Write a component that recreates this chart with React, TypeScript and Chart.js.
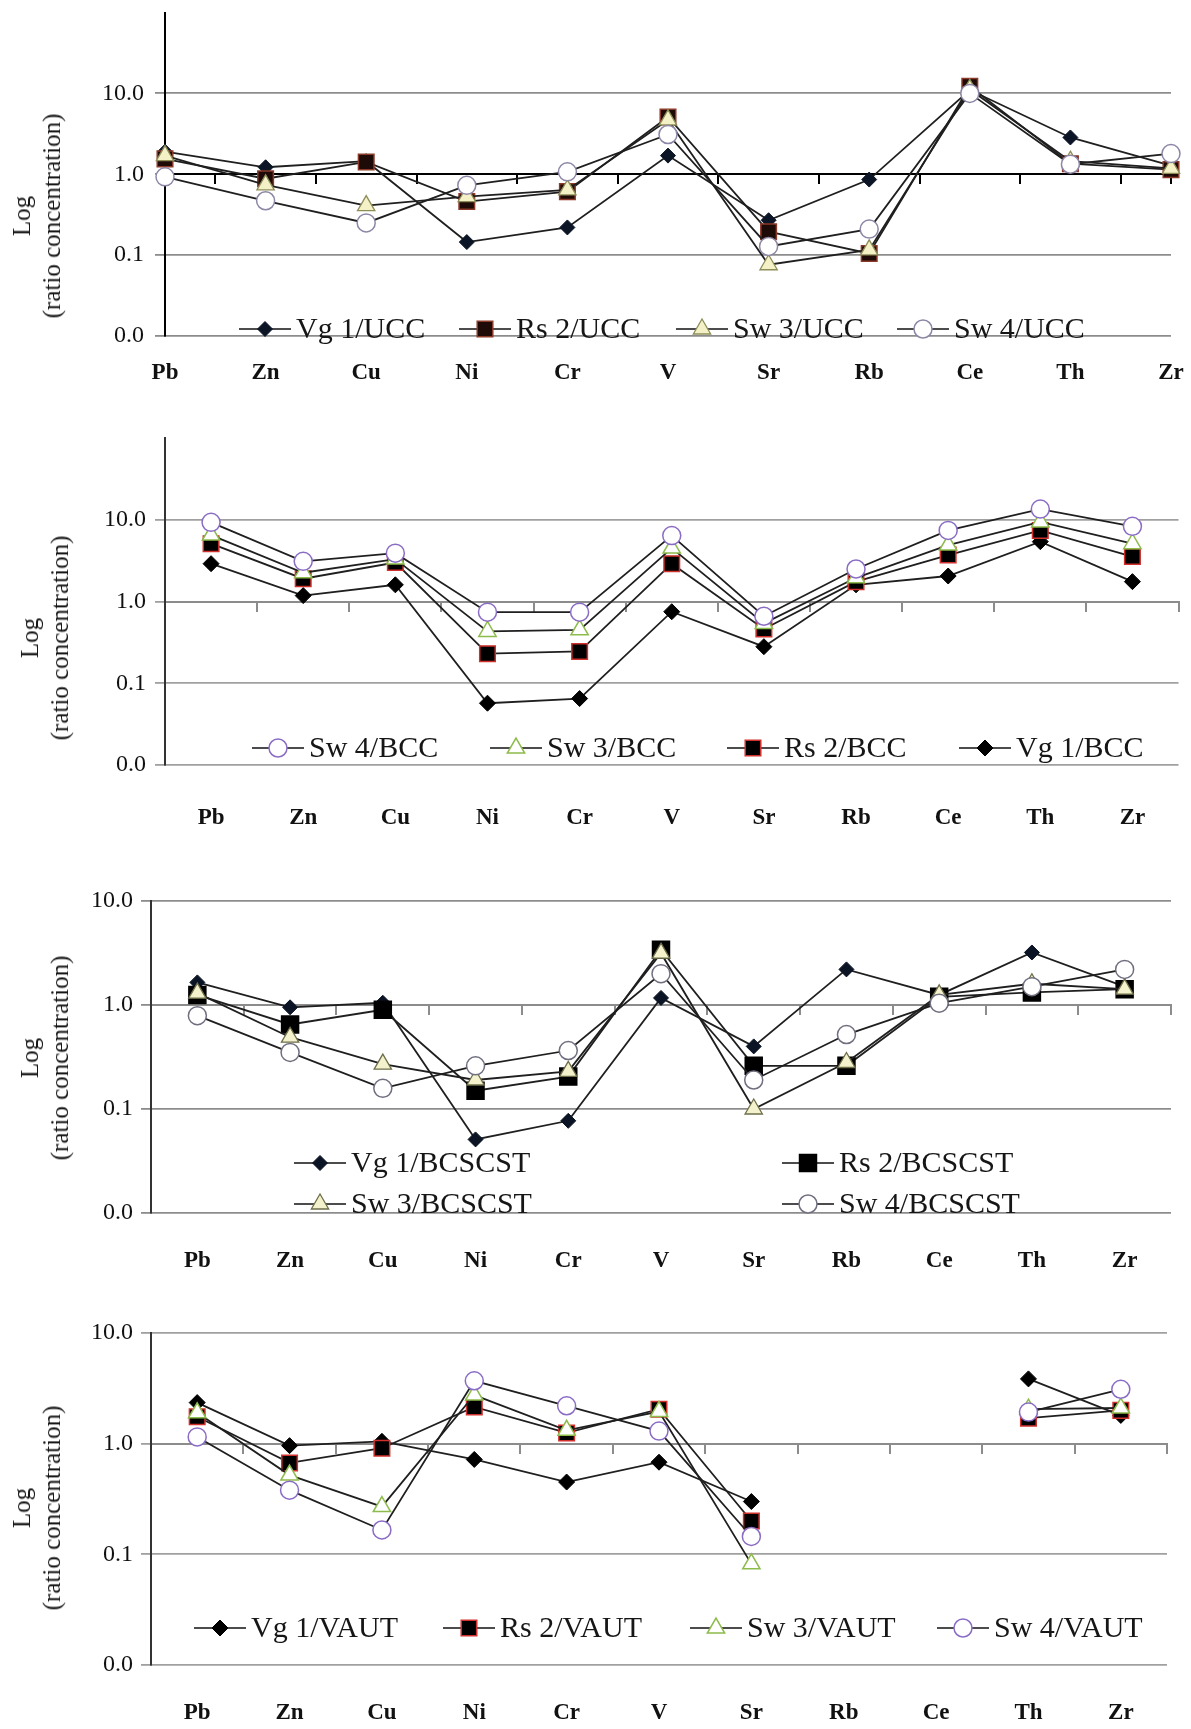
import React, { useEffect, useRef } from 'react';
import { Chart, registerables } from 'chart.js';

Chart.register(...registerables);

const SERIF = '"Liberation Serif", "Times New Roman", serif';

// ---- Data ----
const elements = ['Pb', 'Zn', 'Cu', 'Ni', 'Cr', 'V', 'Sr', 'Rb', 'Ce', 'Th', 'Zr'];
const yTickValues = [0.01, 0.1, 1, 10];

// Panel 1: normalised to UCC
const vg1Ucc = [1.9, 1.22, 1.45, 0.145, 0.22, 1.7, 0.27, 0.86, 11.0, 2.85, 1.28];
const rs2Ucc = [1.55, 0.88, 1.42, 0.46, 0.61, 5.1, 0.195, 0.105, 12.2, 1.35, 1.14];
const sw3Ucc = [1.7, 0.74, 0.41, 0.53, 0.64, 4.7, 0.076, 0.116, 11.2, 1.45, 1.18];
const sw4Ucc = [0.93, 0.47, 0.25, 0.73, 1.07, 3.1, 0.128, 0.21, 10.0, 1.33, 1.8];

// Panel 2: normalised to BCC
const vg1Bcc = [2.9, 1.18, 1.6, 0.057, 0.065, 0.75, 0.28, 1.6, 2.05, 5.4, 1.75];
const rs2Bcc = [5.1, 1.9, 3.0, 0.23, 0.245, 2.9, 0.46, 1.75, 3.7, 7.4, 3.55];
const sw3Bcc = [6.5, 2.25, 3.3, 0.43, 0.45, 4.5, 0.54, 1.95, 4.9, 9.4, 5.1];
const sw4Bcc = [9.3, 3.1, 3.9, 0.74, 0.74, 6.4, 0.66, 2.5, 7.4, 13.5, 8.3];

// Panel 3: normalised to BCSCST
const vg1Bcs = [1.65, 0.95, 1.05, 0.051, 0.077, 1.17, 0.4, 2.2, 1.25, 3.2, 1.5];
const rs2Bcs = [1.25, 0.65, 0.9, 0.15, 0.205, 3.4, 0.26, 0.26, 1.2, 1.32, 1.42];
const sw3Bcs = [1.3, 0.49, 0.27, 0.19, 0.23, 3.15, 0.1, 0.28, 1.25, 1.6, 1.42];
const sw4Bcs = [0.79, 0.35, 0.158, 0.26, 0.365, 2.0, 0.19, 0.52, 1.04, 1.5, 2.2];

// Panel 4: normalised to VAUT
const vg1Vaut = [2.35, 0.96, 1.05, 0.72, 0.45, 0.68, 0.3, null, null, 3.85, 1.8];
const rs2Vaut = [1.75, 0.67, 0.91, 2.15, 1.25, 2.05, 0.2, null, null, 1.7, 2.0];
const sw3Vaut = [1.9, 0.52, 0.27, 2.75, 1.32, 1.95, 0.082, null, null, 2.05, 2.1];
const sw4Vaut = [1.15, 0.38, 0.166, 3.7, 2.2, 1.3, 0.145, null, null, 1.93, 3.1];

// ---- Styles ----
type MarkerStyle = { pointStyle: string; radius: number; fill: string; stroke: string; bw: number };

const stylesA: MarkerStyle[] = [
  { pointStyle: 'rectRot', radius: 7.5, fill: '#0b1526', stroke: '#0b1526', bw: 1 },
  { pointStyle: 'rect', radius: 11, fill: '#1e0a06', stroke: '#8b3a2a', bw: 1.5 },
  { pointStyle: 'triangle', radius: 10, fill: '#f4f1c6', stroke: '#8d8d5a', bw: 1.3 },
  { pointStyle: 'circle', radius: 9, fill: '#ffffff', stroke: '#8e86a6', bw: 1.5 },
];
const stylesB: MarkerStyle[] = [
  { pointStyle: 'rectRot', radius: 8, fill: '#000000', stroke: '#000000', bw: 1 },
  { pointStyle: 'rect', radius: 11, fill: '#000000', stroke: '#d0312d', bw: 1.5 },
  { pointStyle: 'triangle', radius: 10, fill: '#ffffff', stroke: '#8dbb4c', bw: 1.5 },
  { pointStyle: 'circle', radius: 9, fill: '#ffffff', stroke: '#8a6cc4', bw: 1.5 },
];
const stylesC: MarkerStyle[] = [
  { pointStyle: 'rectRot', radius: 7.5, fill: '#0a1424', stroke: '#0a1424', bw: 1 },
  { pointStyle: 'rect', radius: 12, fill: '#000000', stroke: '#000000', bw: 1.5 },
  { pointStyle: 'triangle', radius: 10, fill: '#f3f2cc', stroke: '#6e6e4a', bw: 1.3 },
  { pointStyle: 'circle', radius: 9, fill: '#ffffff', stroke: '#6f6f80', bw: 1.5 },
];

function drawMarker(ctx: CanvasRenderingContext2D, s: MarkerStyle, x: number, y: number) {
  const r = s.radius;
  ctx.save();
  ctx.beginPath();
  if (s.pointStyle === 'rectRot') {
    ctx.moveTo(x - r, y);
    ctx.lineTo(x, y - r);
    ctx.lineTo(x + r, y);
    ctx.lineTo(x, y + r);
    ctx.closePath();
  } else if (s.pointStyle === 'rect') {
    const h = r * Math.SQRT1_2;
    ctx.rect(x - h, y - h, 2 * h, 2 * h);
  } else if (s.pointStyle === 'triangle') {
    const w = r * Math.sin(Math.PI / 3);
    ctx.moveTo(x, y - r);
    ctx.lineTo(x + w, y + r / 2);
    ctx.lineTo(x - w, y + r / 2);
    ctx.closePath();
  } else {
    ctx.arc(x, y, r, 0, Math.PI * 2);
  }
  ctx.fillStyle = s.fill;
  ctx.fill();
  ctx.lineWidth = s.bw;
  ctx.strokeStyle = s.stroke;
  ctx.stroke();
  ctx.restore();
}

const legendPlugin = {
  id: 'panelLegend',
  afterDraw(chart: any, _args: any, opts: any) {
    const ctx: CanvasRenderingContext2D = chart.ctx;
    (opts.items || []).forEach((it: any) => {
      const ds = chart.data.datasets[it.ds];
      ctx.save();
      ctx.strokeStyle = '#111';
      ctx.lineWidth = 1.6;
      ctx.beginPath();
      ctx.moveTo(it.x - opts.half, it.y);
      ctx.lineTo(it.x + opts.half, it.y);
      ctx.stroke();
      drawMarker(ctx, ds._marker, it.x, it.y);
      ctx.fillStyle = '#161616';
      ctx.font = `30px ${SERIF}`;
      ctx.textBaseline = 'middle';
      ctx.textAlign = 'left';
      ctx.fillText(ds.label, it.x + opts.gap, it.y + 1);
      ctx.restore();
    });
  },
};

type PanelCfg = {
  top: number;
  height: number;
  areaTop: number;
  areaBottom: number;
  areaLeft: number;
  areaRight: number;
  xMin: number;
  xMax: number;
  yMax: number;
  xTickMarks: number[];
  labelPad: number;
  yLabelPad: number;
  axisColor: string;
  gridColor: string;
  crossColor: string;
  series: { label: string; values: (number | null)[] }[];
  styles: MarkerStyle[];
  legend: { ds: number; x: number; y: number }[];
  titleCx: number;
  titleCy: number;
};

const halfMarks = elements.map((_, i) => i + 0.5);

const panels: PanelCfg[] = [
  {
    top: 0, height: 400, areaTop: 11, areaBottom: 336, areaLeft: 165, areaRight: 1171,
    xMin: 0, xMax: 10, yMax: 100,
    xTickMarks: halfMarks.slice(0, 10).concat([10]),
    labelPad: 15, yLabelPad: 11,
    axisColor: '#000000', gridColor: '#8c8c8c', crossColor: '#000000',
    series: [
      { label: 'Vg 1/UCC', values: vg1Ucc },
      { label: 'Rs 2/UCC', values: rs2Ucc },
      { label: 'Sw 3/UCC', values: sw3Ucc },
      { label: 'Sw 4/UCC', values: sw4Ucc },
    ],
    styles: stylesA,
    legend: [
      { ds: 0, x: 265, y: 329 },
      { ds: 1, x: 485, y: 329 },
      { ds: 2, x: 702, y: 329 },
      { ds: 3, x: 923, y: 329 },
    ],
    titleCx: 37, titleCy: 216,
  },
  {
    top: 420, height: 430, areaTop: 438, areaBottom: 765, areaLeft: 165, areaRight: 1191,
    xMin: -0.5, xMax: 10.5, yMax: 100,
    xTickMarks: halfMarks,
    labelPad: 31, yLabelPad: 9,
    axisColor: '#333333', gridColor: '#a0a0a0', crossColor: '#8c8c8c',
    series: [
      { label: 'Vg 1/BCC', values: vg1Bcc },
      { label: 'Rs 2/BCC', values: rs2Bcc },
      { label: 'Sw 3/BCC', values: sw3Bcc },
      { label: 'Sw 4/BCC', values: sw4Bcc },
    ],
    styles: stylesB,
    legend: [
      { ds: 3, x: 278, y: 328 },
      { ds: 2, x: 516, y: 328 },
      { ds: 1, x: 753, y: 328 },
      { ds: 0, x: 985, y: 328 },
    ],
    titleCx: 45, titleCy: 638,
  },
  {
    top: 880, height: 400, areaTop: 901, areaBottom: 1213, areaLeft: 151, areaRight: 1171,
    xMin: -0.5, xMax: 10.5, yMax: 10,
    xTickMarks: halfMarks,
    labelPad: 26, yLabelPad: 8,
    axisColor: '#333333', gridColor: '#8c8c8c', crossColor: '#8c8c8c',
    series: [
      { label: 'Vg 1/BCSCST', values: vg1Bcs },
      { label: 'Rs 2/BCSCST', values: rs2Bcs },
      { label: 'Sw 3/BCSCST', values: sw3Bcs },
      { label: 'Sw 4/BCSCST', values: sw4Bcs },
    ],
    styles: stylesC,
    legend: [
      { ds: 0, x: 320, y: 283 },
      { ds: 1, x: 808, y: 283 },
      { ds: 2, x: 320, y: 324 },
      { ds: 3, x: 808, y: 324 },
    ],
    titleCx: 45, titleCy: 1058,
  },
  {
    top: 1310, height: 419, areaTop: 1333, areaBottom: 1665, areaLeft: 151, areaRight: 1167,
    xMin: -0.5, xMax: 10.5, yMax: 10,
    xTickMarks: halfMarks,
    labelPad: 26, yLabelPad: 8,
    axisColor: '#333333', gridColor: '#a0a0a0', crossColor: '#8c8c8c',
    series: [
      { label: 'Vg 1/VAUT', values: vg1Vaut },
      { label: 'Rs 2/VAUT', values: rs2Vaut },
      { label: 'Sw 3/VAUT', values: sw3Vaut },
      { label: 'Sw 4/VAUT', values: sw4Vaut },
    ],
    styles: stylesB,
    legend: [
      { ds: 0, x: 220, y: 318 },
      { ds: 1, x: 469, y: 318 },
      { ds: 2, x: 716, y: 318 },
      { ds: 3, x: 963, y: 318 },
    ],
    titleCx: 37, titleCy: 1508,
  },
];

function buildConfig(p: PanelCfg): any {
  const xAxisHeight = p.top + p.height - p.areaBottom;
  const datasets = p.series.map((s, i) => {
    const st = p.styles[i];
    return {
      label: s.label,
      data: s.values.map((v, j) => ({ x: j, y: v })),
      borderColor: '#1f1f1f',
      borderWidth: 1.8,
      tension: 0,
      fill: false,
      spanGaps: false,
      clip: false,
      order: 4 - i,
      pointStyle: st.pointStyle,
      pointRadius: st.radius,
      pointBackgroundColor: st.fill,
      pointBorderColor: st.stroke,
      pointBorderWidth: st.bw,
      _marker: st,
    };
  });
  return {
    type: 'line',
    data: { datasets },
    plugins: [legendPlugin],
    options: {
      animation: false,
      responsive: false,
      maintainAspectRatio: false,
      devicePixelRatio: 1,
      events: [],
      layout: {
        padding: { left: 0, right: 1191 - p.areaRight, top: p.areaTop - p.top, bottom: 0 },
      },
      plugins: {
        legend: { display: false },
        tooltip: { enabled: false },
        panelLegend: { items: p.legend, half: 26, gap: 31 },
      },
      scales: {
        x: {
          type: 'linear',
          position: 'bottom',
          min: p.xMin,
          max: p.xMax,
          afterBuildTicks: (s: any) => {
            s.ticks = elements.map((_, i) => ({ value: i }));
          },
          afterFit: (s: any) => {
            s.height = xAxisHeight;
            s.paddingLeft = 0;
            s.paddingRight = 0;
          },
          ticks: {
            autoSkip: false,
            maxRotation: 0,
            padding: p.labelPad,
            color: '#111',
            font: { family: SERIF, size: 23, weight: 'bold' },
            callback: (v: any) => elements[Math.round(Number(v))] ?? '',
          },
          grid: { display: false },
          border: { display: false },
        },
        x2: {
          type: 'linear',
          position: { y: 1 },
          min: p.xMin,
          max: p.xMax,
          afterBuildTicks: (s: any) => {
            s.ticks = p.xTickMarks.map((v) => ({ value: v }));
          },
          afterFit: (s: any) => {
            s.height = 0;
          },
          ticks: { display: false },
          grid: {
            drawOnChartArea: false,
            drawTicks: true,
            tickLength: 9,
            color: p.crossColor,
            lineWidth: 2,
          },
          border: { display: true, color: p.crossColor, width: 2 },
        },
        y: {
          type: 'logarithmic',
          min: 0.01,
          max: p.yMax,
          afterBuildTicks: (s: any) => {
            s.ticks = yTickValues.map((v) => ({ value: v }));
          },
          afterFit: (s: any) => {
            s.width = p.areaLeft;
            s.paddingTop = 0;
            s.paddingBottom = 0;
          },
          ticks: {
            padding: p.yLabelPad,
            color: '#111',
            font: { family: SERIF, size: 24 },
            callback: (v: any) => Number(v).toFixed(1),
          },
          grid: { color: p.gridColor, lineWidth: 1.8, tickLength: 10, drawTicks: true },
          border: { display: true, color: p.axisColor, width: 2 },
        },
      },
    },
  };
}

function Panel({ cfg }: { cfg: PanelCfg }) {
  const ref = useRef<HTMLCanvasElement | null>(null);
  useEffect(() => {
    if (!ref.current) return;
    const chart = new Chart(ref.current, buildConfig(cfg));
    return () => chart.destroy();
  }, [cfg]);
  return (
    <>
      <canvas
        ref={ref}
        width={1191}
        height={cfg.height}
        style={{ position: 'absolute', left: 0, top: cfg.top, width: 1191, height: cfg.height }}
      />
      <div
        style={{
          position: 'absolute',
          left: cfg.titleCx,
          top: cfg.titleCy,
          transform: 'translate(-50%, -50%) rotate(-90deg)',
          whiteSpace: 'nowrap',
          textAlign: 'center',
          fontFamily: SERIF,
          fontSize: 25,
          lineHeight: '30px',
          color: '#161616',
        }}
      >
        Log
        <br />
        (ratio concentration)
      </div>
    </>
  );
}

export default function App() {
  return (
    <div
      style={{
        position: 'absolute',
        left: 0,
        top: 0,
        width: 1191,
        height: 1729,
        background: '#ffffff',
        overflow: 'hidden',
      }}
    >
      {panels.map((p, i) => (
        <Panel key={i} cfg={p} />
      ))}
    </div>
  );
}
